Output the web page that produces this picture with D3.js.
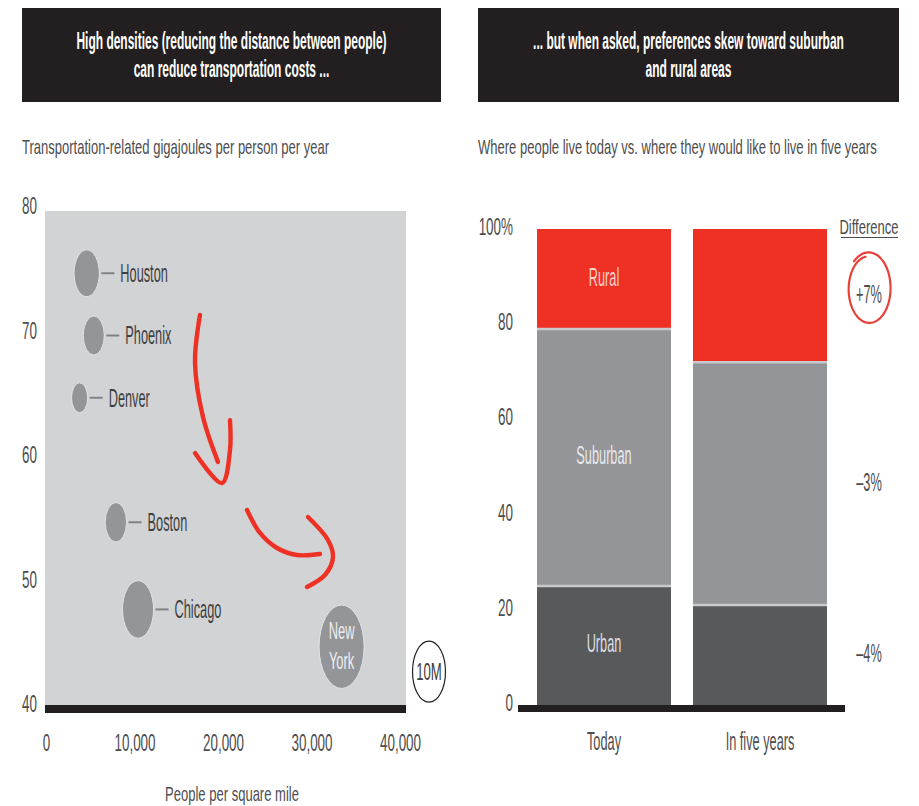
<!DOCTYPE html>
<html><head><meta charset="utf-8">
<script src="https://cdn.jsdelivr.net/npm/d3@7/dist/d3.min.js"></script>
<style>
body{margin:0;background:#fff}
svg{display:block}
text{font-family:"Liberation Sans",Arial,sans-serif}
</style>
</head><body>
<svg id="chart" width="919" height="806"></svg>
<script>
// ---------------- DATA ----------------
// Left panel: transportation energy vs density (bubble = metro population, millions)
const cities     = ["Houston", "Phoenix", "Denver", "Boston", "Chicago", "New York"];
const density    = [4600, 5400, 3800, 7900, 10400, 33400];
const energy     = [75, 70, 65, 55, 48, 45];
const population = [5.9, 4.1, 2.4, 4.2, 8.9, 18.7];
const labelInside = [false, false, false, false, false, true];
const xTicksL = [0, 10000, 20000, 30000, 40000];
const yTicksL = [40, 50, 60, 70, 80];
const legendPopulation = 10;
const legendLabel = "10M";

// hand-drawn arrows (data coordinates: density, gigajoules)
const arrow1Stroke = [[17400, 71.65], [16840, 67.8], [17740, 63.45], [19430, 59.85]];
const arrow1Head   = [[16840, 60.56], [19890, 58.15], [20790, 60.8], [20790, 63.2]];
const arrow2Stroke = [[22710, 55.98], [24180, 54.14], [26100, 52.93], [28360, 52.37], [30960, 52.45]];
const arrow2Head   = [[29600, 55.42], [31860, 53.57], [32430, 52.21], [31520, 50.76], [29490, 49.8]];

// Right panel: where people live today vs in five years (%)
const periods   = ["Today", "In five years"];
const areaTypes = ["Urban", "Suburban", "Rural"];
const urban     = [25, 21];
const suburban  = [54, 51];
const rural     = [21, 28];
const yTicksR   = [0, 20, 40, 60, 80, 100];

const titleLeft  = ["High densities (reducing the distance between people)", "can reduce transportation costs ..."];
const titleRight = ["... but when asked, preferences skew toward suburban", "and rural areas"];
const subLeft  = "Transportation-related gigajoules per person per year";
const subRight = "Where people live today vs. where they would like to live in five years";
const xTitleLeft = "People per square mile";

// ---------------- STYLE ----------------
const ASPECT = 0.54;
const T = {
  head:  {size:23.5, sx:0.51, weight:"bold"},
  sub:   {size:21, sx:0.62},
  tick:  {size:24, sx:0.56},
  label: {size:25, sx:0.51},
  inner: {size:23, sx:0.56},
  legend:{size:24, sx:0.55}
};
const C = {dark:"#231f20", text:"#4d4d4f", plot:"#d1d3d4", bubble:"#939598",
           red:"#ee3124", sub:"#939598", urb:"#58595b", line:"#808285"};

const svg = d3.select("#chart");

function txt(parent, s, x, y, st, o = {}) {
  return parent.append("text")
    .attr("transform", `translate(${x},${y}) scale(${st.sx},1)`)
    .attr("text-anchor", o.anchor || "start")
    .attr("dy", "0.358em")
    .style("font-size", st.size + "px")
    .style("font-weight", st.weight || "normal")
    .attr("fill", o.fill || C.text)
    .attr("fill-opacity", o.opacity != null ? o.opacity : 1)
    .text(s);
}
function styleTicks(sel, anchor, dyShift, st) {
  sel.select(".domain").remove();
  sel.selectAll("text").attr("x", null).attr("y", null).attr("dy", "0.358em").attr("text-anchor", anchor)
    .attr("transform", `translate(0,${dyShift}) scale(${st.sx},1)`).attr("fill", C.text)
    .style("font-size", st.size + "px");
}

// ---------------- HEADERS ----------------
function header(x0, x1, lines) {
  svg.append("rect").attr("x", x0).attr("y", 8).attr("width", x1 - x0).attr("height", 94).attr("fill", C.dark);
  lines.forEach((l, i) => txt(svg, l, (x0 + x1) / 2, 41 + i * 28, T.head, {anchor:"middle", fill:"#fff"}));
}
header(22, 441, titleLeft);
header(478, 899, titleRight);
txt(svg, subLeft, 22, 146, T.sub);
txt(svg, subRight, 478, 146, T.sub);

// ---------------- LEFT: BUBBLE CHART ----------------
const x = d3.scaleLinear().domain([0, 40000]).range([46, 400]);
const y = d3.scaleLinear().domain([40, 80]).range([709, 211]);
const r = d3.scaleSqrt().domain([0, 10]).range([0, 30.5]);

const L = svg.append("g");
L.append("rect").attr("x", x(0) - 1).attr("y", y(80)).attr("width", x(40000) - x(0) + 7).attr("height", y(40) - y(80)).attr("fill", C.plot);
L.append("rect").attr("x", x(0) - 1).attr("y", y(40) - 4).attr("width", x(40000) - x(0) + 7).attr("height", 8).attr("fill", C.dark);

const yAxL = L.append("g").attr("transform", "translate(37,0)")
  .call(d3.axisLeft(y).tickValues(yTicksL).tickSize(0).tickPadding(0));
styleTicks(yAxL, "end", -6, T.tick);

const xAxL = L.append("g").attr("transform", "translate(0,742)")
  .call(d3.axisBottom(x).tickValues(xTicksL).tickSize(0).tickPadding(0).tickFormat(d3.format(",")));
styleTicks(xAxL, "middle", 0, T.tick);

txt(L, xTitleLeft, 232, 793, T.sub, {anchor:"middle"});

// bubbles
const data = cities.map((c, i) => ({c, dx: density[i], e: energy[i], p: population[i], inside: labelInside[i]}));
data.forEach(d => {
  const cx = x(d.dx), cy = y(d.e), ry = r(d.p), rx = ry * ASPECT;
  L.append("ellipse").attr("cx", cx).attr("cy", cy).attr("rx", rx).attr("ry", ry)
    .attr("fill", C.bubble).attr("stroke", "#e2e3e4").attr("stroke-width", 1);
  if (d.inside) {
    const w = d.c.split(" ");
    txt(L, w[0], cx, cy - 16, T.inner, {anchor:"middle", fill:"#eeeeef"});
    txt(L, w[1], cx, cy + 14, T.inner, {anchor:"middle", fill:"#eeeeef"});
  } else {
    L.append("line").attr("x1", cx + rx + 2).attr("x2", cx + rx + 15).attr("y1", cy).attr("y2", cy)
      .attr("stroke", C.line).attr("stroke-width", 2);
    txt(L, d.c, cx + rx + 21, cy, T.label, {fill:"#3f3f41"});
  }
});

// legend bubble
{
  const ry = r(legendPopulation), rx = ry * ASPECT, cx = x(40000) + 29, cy = y(43.0);
  L.append("ellipse").attr("cx", cx).attr("cy", cy).attr("rx", rx).attr("ry", ry)
    .attr("fill", "#fff").attr("stroke", C.dark).attr("stroke-width", 1.2);
  txt(L, legendLabel, cx, cy, T.legend, {anchor:"middle", fill:"#3f3f41"});
}

// red arrows
const ln = d3.line().x(d => x(d[0])).y(d => y(d[1])).curve(d3.curveCatmullRom);
[arrow1Stroke, arrow1Head, arrow2Stroke, arrow2Head].forEach(a => {
  L.append("path").attr("d", ln(a)).attr("fill", "none").attr("stroke", C.red)
    .attr("stroke-width", 4.4).attr("stroke-linecap", "round").attr("stroke-linejoin", "round");
});

// ---------------- RIGHT: STACKED BARS ----------------
const xb = d3.scaleBand().domain(periods).range([537, 827]).paddingInner(0.141).paddingOuter(0);
const yr = d3.scaleLinear().domain([0, 100]).range([705, 229]);
const color = d3.scaleOrdinal().domain(areaTypes).range([C.urb, C.sub, C.red]);

const table = periods.map((p, i) => ({period: p, Urban: urban[i], Suburban: suburban[i], Rural: rural[i]}));
const stack = d3.stack().keys(areaTypes)(table);

const R = svg.append("g");
stack.forEach(layer => {
  R.selectAll(null).data(layer).enter().append("rect")
    .attr("x", d => xb(d.data.period)).attr("width", xb.bandwidth())
    .attr("y", d => yr(d[1])).attr("height", d => yr(d[0]) - yr(d[1]))
    .attr("fill", color(layer.key));
});
stack.slice(0, -1).forEach(layer => {
  R.selectAll(null).data(layer).enter().append("line")
    .attr("x1", d => xb(d.data.period)).attr("x2", d => xb(d.data.period) + xb.bandwidth())
    .attr("y1", d => yr(d[1])).attr("y2", d => yr(d[1]))
    .attr("stroke", "#c9cacc").attr("stroke-width", 2.5);
});
stack.forEach(layer => {
  const d = layer[0];
  txt(R, layer.key, xb(d.data.period) + xb.bandwidth() / 2, yr((d[0] + d[1]) / 2) - 2, T.label,
      {anchor:"middle", fill:"#fff", opacity: layer.key === "Rural" ? 0.78 : 0.82});
});
R.append("rect").attr("x", 518).attr("y", yr(0)).attr("width", 845 - 518).attr("height", 7).attr("fill", C.dark);

const yAxR = R.append("g").attr("transform", "translate(513,0)")
  .call(d3.axisLeft(yr).tickValues(yTicksR).tickSize(0).tickPadding(0).tickFormat(d => d === 100 ? d + "%" : d));
styleTicks(yAxR, "end", -3, T.tick);

const xAxR = R.append("g").attr("transform", "translate(0,741)")
  .call(d3.axisBottom(xb).tickSize(0).tickPadding(0));
styleTicks(xAxR, "middle", 0, T.label);

// differences
const dxC = 869;
txt(R, "Difference", dxC, 226, T.sub, {anchor:"middle"});
R.append("line").attr("x1", 841).attr("x2", 898).attr("y1", 237.5).attr("y2", 237.5).attr("stroke", C.text).attr("stroke-width", 1.2);
stack.forEach(layer => {
  const d0 = layer[0], d1 = layer[1];
  const diff = Math.round((d1[1] - d1[0]) - (d0[1] - d0[0]));
  const lab = (diff > 0 ? "+" : "\u2013") + Math.abs(diff) + "%";
  const yy = yr((d1[0] + d1[1]) / 2) - 2;
  txt(R, lab, dxC, yy, T.label, {anchor:"middle"});
  if (layer.key === "Rural") {
    const cx = dxC, cy = yy - 5, rx = 22, ry = 36;
    const pts = d3.range(0, 1.0001, 0.01).map(t => {
      const th = -1.75 - t * (2 * Math.PI + 0.55);
      const k = 0.9 + 0.12 * t;
      return [cx + rx * k * Math.cos(th), cy + ry * k * Math.sin(th)];
    });
    R.append("path").attr("d", d3.line()(pts)).attr("fill", "none").attr("stroke", "#e8413a")
      .attr("stroke-width", 2.2).attr("stroke-linecap", "round");
  }
});
</script>
</body></html>
